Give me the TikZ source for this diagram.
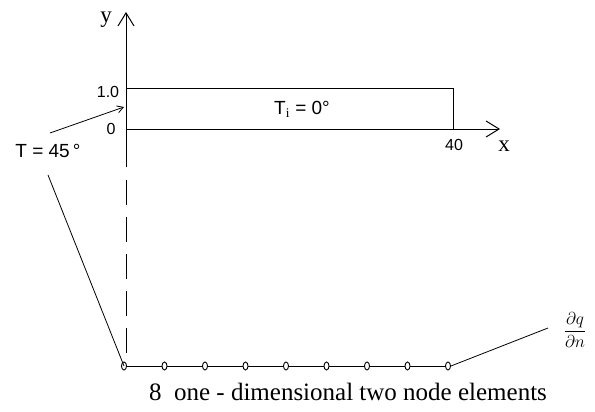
\documentclass[tikz,border=0pt]{standalone}
\usepackage{fontspec}
\setmainfont{Liberation Serif}
\newfontfamily\numfont{Liberation Sans}
\usetikzlibrary{arrows.meta,positioning,shapes.geometric}

\begin{document}
\begin{tikzpicture}[x=1pt, y=-1pt,
        axis/.style={line width=1pt, -{Straight Barb[length=13pt, width=16pt]}},
        elnode/.style={ellipse, draw, line width=0.9pt, fill=white,
                       minimum width=5pt, minimum height=8pt, inner sep=0pt},
        numlbl/.style={font=\numfont\fontsize{16}{18}\selectfont},
        biglbl/.style={font=\numfont\fontsize{19}{22}\selectfont},
        txtlbl/.style={font=\fontsize{23}{26}\selectfont},
        lead/.style={line width=0.8pt}
      ]
        \useasboundingbox (0,0) rectangle (595,412);
        % Axes and the bar
        \coordinate (O) at (126,129);
        \coordinate (ytip) at (126,12);
        \coordinate (xtip) at (500,129);
        \coordinate (ybot) at (126,167);
        \coordinate (ytop) at (126,89);
        \coordinate (xend) at (453,89);
        \draw[axis] (ybot) -- (ytip);
        \draw[axis] (O) -- (xtip);
        \draw[line width=1pt] (ytop) -- (xend) -- (xend |- O);
        \node[txtlbl] (ylbl) at (106,20) {y};
        \node[txtlbl] (xlbl) at (504,146) {x};
        \node[numlbl] (one) at (108,92) {1.0};
        \node[numlbl] (zero) at (111,129) {0};
        \node[numlbl] (forty) at (454,145) {40};
        \node[biglbl] (Ti) at (302,109)
          {T\textsubscript{\normalfont i}\ = 0\textdegree};
        % Boundary temperature
        \node[biglbl] (Tlbl) at (48,151) {T = 45\,\textdegree};
        \coordinate (thead) at (50,133);
        \coordinate (tmid) at (124,107);
        \draw[lead, -{Straight Barb[length=6pt, width=7pt]}] (thead) -- (tmid);
        % Mesh of elements
        \draw[line width=0.9pt, dash pattern=on 25pt off 12pt] (126,180) -- (126,360);
        \foreach \i in {0,...,8}
          \coordinate (c\i) at (124+40.5*\i,366);
        \draw[line width=0.9pt] (c0) -- (c8);
        \foreach \i in {0,...,8}
          \node[elnode] (n\i) at (c\i) {};
        \coordinate (tfoot) at (48,175);
        \draw[lead] (tfoot) -- (n0.center);
        \coordinate (qend) at (548,328);
        \draw[lead] (n8.east) -- (qend);
        \node[font=\fontsize{18}{20}\selectfont] (dqdn) at (575,330)
          {$\displaystyle\frac{\partial q}{\partial n}$};
        \node[font=\fontsize{25}{28}\selectfont] (caption) at (348,392)
          {8\ \ one - dimensional two node elements};
      \end{tikzpicture}
\end{document}
